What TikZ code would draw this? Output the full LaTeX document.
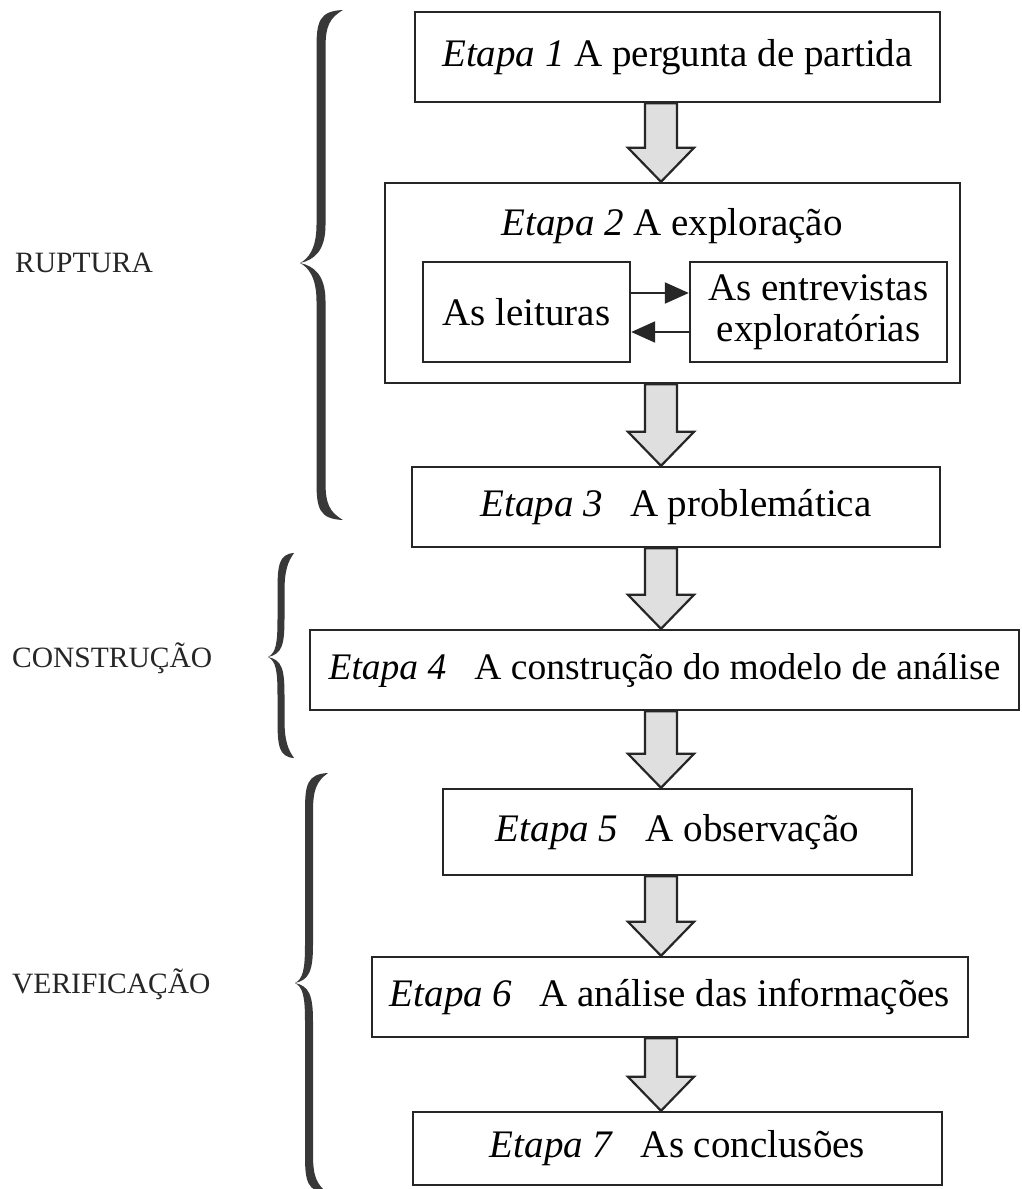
\documentclass[tikz,border=0pt]{standalone}
\usepackage{fontspec}
\setmainfont{Liberation Serif}
\usetikzlibrary{arrows.meta,calc}
\newcommand{\gp}{\hspace{0.7em}}
\newcommand{\blockarrow}[2]{%
  \draw[barrow] ($(ax |- #1.south)+(-16,0)$) -- ($(ax |- #1.south)+(16,0)$)
    -- ($(ax |- #2.north)+(16,-34)$) -- ($(ax |- #2.north)+(33,-34)$)
    -- (ax |- #2.north) -- ($(ax |- #2.north)+(-33,-34)$)
    -- ($(ax |- #2.north)+(-16,-34)$) -- cycle;}
\newcommand{\curly}[7]{% #1 xv, #2 yt, #3 ym, #4 yb, #5 xt, #6 xe, #7 w
  \fill[brc] (#6,#2)
    .. controls ({#1-2},{#2+1}) and ({#1-#7/2},{#2+12}) .. ({#1-#7/2},{#2+38})
    -- ({#1-#7/2},{#3-38})
    .. controls ({#1-#7/2},{#3-14}) and ({#5+8},{#3-4}) .. (#5,#3)
    .. controls ({#5+8},{#3+4}) and ({#1-#7/2},{#3+14}) .. ({#1-#7/2},{#3+38})
    -- ({#1-#7/2},{#4-38})
    .. controls ({#1-#7/2},{#4-12}) and ({#1-2},{#4-1}) .. (#6,#4)
    .. controls ({#1+#7/2+4},{#4-8}) and ({#1+#7/2},{#4-16}) .. ({#1+#7/2},{#4-38})
    -- ({#1+#7/2},{#3+38})
    .. controls ({#1+#7/2},{#3+12}) and ({#5+14},{#3+3}) .. (#5,#3)
    .. controls ({#5+14},{#3-3}) and ({#1+#7/2},{#3-12}) .. ({#1+#7/2},{#3-38})
    -- ({#1+#7/2},{#2+38})
    .. controls ({#1+#7/2},{#2+16}) and ({#1+#7/2+4},{#2+8}) .. (#6,#2) -- cycle;}
\begin{document}
\begin{tikzpicture}[x=1pt,y=-1pt,
  box/.style={draw=black!85, line width=2.4pt, inner sep=0pt, align=center,
    font=\fontsize{39}{45}\selectfont},
  ttl/.style={inner sep=0pt, font=\fontsize{39}{45}\selectfont},
  lab/.style={anchor=base west, inner sep=0pt, font=\fontsize{29.5}{34}\selectfont, text=black!85},
  barrow/.style={draw=black!85, line width=2.2pt, fill=gray!25, line join=miter},
  iarr/.style={draw=black!85, line width=2.2pt, -{Triangle[length=24pt,width=21pt]}},
  brc/.style={fill=black!78}]
\useasboundingbox (0,0) rectangle (1022,1189);
\fill[white] (0,0) rectangle (1022,1189);
\clip (0,0) rectangle (1022,1189);
\coordinate (ax) at (661,0);

% boxes
\node[box, minimum width=525pt, minimum height=90pt] (e1) at (677.5,57) {\textit{Etapa 1} A pergunta de partida};
\node[box, minimum width=575pt, minimum height=200pt] (e2) at (672.5,283) {};
\node[ttl] (t2) at (672,226) {\textit{Etapa 2} A exploração};
\node[box, minimum width=207pt, minimum height=100pt] (le) at (526.5,312) {As leituras};
\node[box, minimum width=257pt, minimum height=100pt] (en) at (818.5,312) {As entrevistas\\[-4pt]exploratórias};
\node[box, minimum width=528pt, minimum height=80pt] (e3) at (676,507) {\textit{Etapa 3}\gp A problemática};
\node[box, minimum width=709pt, minimum height=80pt, font=\fontsize{37.5}{44}\selectfont] (e4) at (664.5,670) {\textit{Etapa 4}\hspace{0.5em} A construção do modelo de análise};
\node[box, minimum width=469pt, minimum height=86pt] (e5) at (677.5,832) {\textit{Etapa 5}\gp A observação};
\node[box, minimum width=596pt, minimum height=80pt] (e6) at (670,997) {\textit{Etapa 6}\gp A análise das informações};
\node[box, minimum width=529pt, minimum height=73pt] (e7) at (677.5,1148.5) {\textit{Etapa 7}\gp As conclusões};

% inner arrows
\draw[iarr] ($(le.east)+(0,-19)$) -- ($(en.west)+(0,-19)$);
\draw[iarr] ($(en.west)+(0,20)$) -- ($(le.east)+(0,20)$);

% block arrows
\blockarrow{e1}{e2}
\blockarrow{e2}{e3}
\blockarrow{e3}{e4}
\blockarrow{e4}{e5}
\blockarrow{e5}{e6}
\blockarrow{e6}{e7}

% braces
\curly{321}{10}{263}{520}{300}{343}{9}
\curly{281}{553}{657}{758}{268}{294}{7}
\curly{309}{773}{983}{1193}{295}{328}{8}

% labels
\node[lab] (l1) at (15,272) {RUPTURA};
\node[lab] (l2) at (12,667) {CONSTRUÇÃO};
\node[lab] (l3) at (12,993) {VERIFICAÇÃO};
\end{tikzpicture}
\end{document}
